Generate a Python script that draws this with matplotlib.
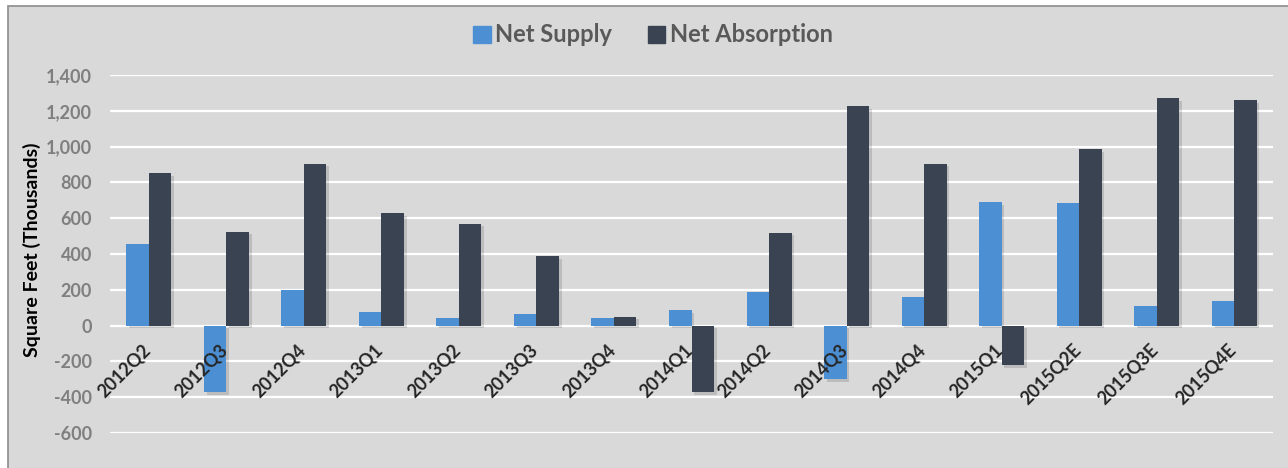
import matplotlib
matplotlib.use("Agg")
import matplotlib.pyplot as plt
import matplotlib.patheffects as pe
from matplotlib.patches import Rectangle, Patch
import numpy as np

quarters = ["2012Q2", "2012Q3", "2012Q4", "2013Q1", "2013Q2", "2013Q3", "2013Q4",
            "2014Q1", "2014Q2", "2014Q3", "2014Q4", "2015Q1", "2015Q2E", "2015Q3E", "2015Q4E"]
net_supply = [455, -370, 200, 78, 40, 65, 40, 85, 190, -300, 160, 690, 685, 110, 135]
net_absorption = [850, 525, 905, 630, 570, 390, 50, -370, 520, 1225, 905, -220, 985, 1270, 1260]
y_ticks = [-600, -400, -200, 0, 200, 400, 600, 800, 1000, 1200, 1400]

supply_color = "#4d8fd3"
absorb_color = "#394352"
panel_color = "#d9d9d9"

plt.rcParams["font.family"] = ["Lato", "DejaVu Sans"]
plt.rcParams["font.weight"] = "bold"

fig = plt.figure(figsize=(12.88, 4.68), dpi=100)
fig.patch.set_facecolor("white")
# gray chart panel with thin border
fig.patches.append(Rectangle((8 / 1288, -0.01), 1.0, 1 - 6 / 468 + 0.01,
                             transform=fig.transFigure, facecolor=panel_color,
                             edgecolor="#8c8c8c", linewidth=1.2, zorder=-5))

ax = fig.add_axes([110 / 1288, 35 / 468, 1163 / 1288, 358 / 468])
ax.set_facecolor("none")

x = np.arange(len(quarters))
w = 0.29
shadow = [pe.SimplePatchShadow(offset=(2, -2), shadow_rgbFace="black", alpha=0.13), pe.Normal()]
b1 = ax.bar(x - w / 2, net_supply, w, color=supply_color, zorder=3)
b2 = ax.bar(x + w / 2, net_absorption, w, color=absorb_color, zorder=3)
for bar in list(b1) + list(b2):
    bar.set_path_effects(shadow)

ax.set_xlim(-0.5, len(quarters) - 0.5)
ax.set_ylim(-600, 1400)
ax.set_yticks(y_ticks)
ax.set_yticklabels([f"{v:,}" for v in y_ticks], color="#7f7f7f", fontsize=13, fontweight="bold")
ax.set_xticks([])
ax.tick_params(axis="y", length=0, pad=13)
ax.grid(axis="y", color="white", linewidth=1.6, zorder=1)
ax.set_axisbelow(True)
for s in ax.spines.values():
    s.set_visible(False)

# category labels sit just below the zero line
for i, q in enumerate(quarters):
    ax.text(i + 0.06, -85, q, rotation=45, ha="right", va="top",
            fontsize=13, fontweight="bold", color="#262626", zorder=4)

fig.text(32 / 1288, 1 - 250 / 468, "Square Feet (Thousands)", rotation=90,
         ha="center", va="center", fontsize=14, fontweight="bold", color="black")

handles = [Patch(color=supply_color), Patch(color=absorb_color)]
fig.legend(handles=handles, labels=["Net Supply", "Net Absorption"],
           loc="center", bbox_to_anchor=(653 / 1288, 1 - 35 / 468), ncol=2,
           frameon=False, handlelength=0.75, handleheight=0.75, handletextpad=0.2,
           columnspacing=1.5, prop={"size": 17, "weight": "bold"}, labelcolor="#595959")

fig.savefig("out.png", dpi=100, facecolor=fig.get_facecolor())
